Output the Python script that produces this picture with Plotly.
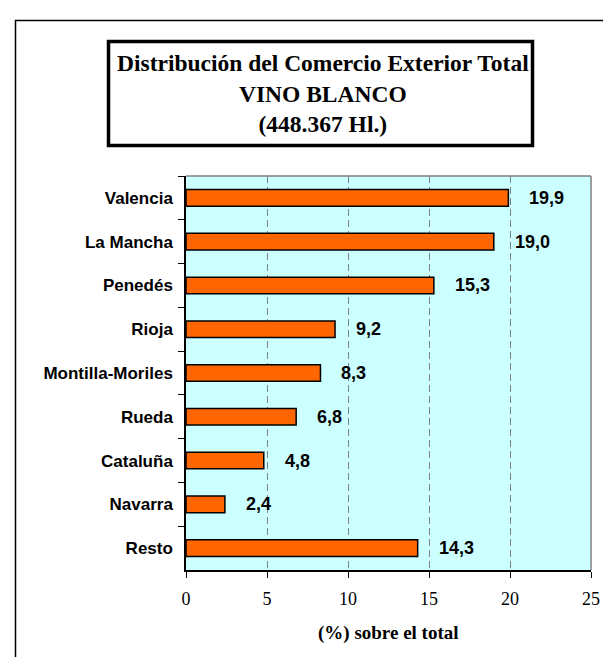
import plotly.graph_objects as go

categories = ["Valencia", "La Mancha", "Penedés", "Rioja", "Montilla-Moriles",
              "Rueda", "Cataluña", "Navarra", "Resto"]
values = [19.9, 19.0, 15.3, 9.2, 8.3, 6.8, 4.8, 2.4, 14.3]
value_labels = ["19,9", "19,0", "15,3", "9,2", "8,3", "6,8", "4,8", "2,4", "14,3"]
x_ticks = [0, 5, 10, 15, 20, 25]
title_lines = ["Distribución del Comercio Exterior Total", "VINO BLANCO", "(448.367 Hl.)"]
x_title = "(%) sobre el total"

W, H = 611, 657
L, R, T, B = 178, 583, 168, 562


def px2x(px):
    return (px - L) / (R - L)


def py2y(py):
    return (B - py) / (B - T)


SANS = "Liberation Sans, Arial, sans-serif"
SERIF = "Liberation Serif, Times New Roman, serif"

fig = go.Figure()
fig.add_trace(go.Bar(
    x=values, y=categories, orientation="h",
    marker=dict(color="#FF6600", line=dict(color="black", width=1.5)),
    width=0.38, hoverinfo="skip",
))

annotations = []
for c, v, t in zip(categories, values, value_labels):
    annotations.append(dict(
        x=v, y=c, xref="x", yref="y", text="<b>%s</b>" % t, showarrow=False,
        xanchor="left", yanchor="middle", xshift=19,
        font=dict(family=SANS, size=18, color="black"),
    ))

annotations.append(dict(
    x=px2x(315), y=py2y(86), xref="paper", yref="paper",
    text="<br>".join("<b>%s</b>" % s for s in title_lines), showarrow=False,
    xanchor="center", yanchor="middle", align="center",
    font=dict(family=SERIF, size=23.5, color="black"),
))
annotations.append(dict(
    x=0.5, y=py2y(625), xref="paper", yref="paper",
    text="<b>%s</b>" % x_title, showarrow=False,
    xanchor="center", yanchor="middle",
    font=dict(family=SERIF, size=19, color="black"),
))

shapes = [
    # outer frame (extends past right/bottom edges)
    dict(type="rect", xref="paper", yref="paper",
         x0=px2x(7.5), x1=px2x(680), y0=py2y(720), y1=py2y(12.5),
         line=dict(color="black", width=1.5), fillcolor="rgba(0,0,0,0)", layer="above"),
    # title box
    dict(type="rect", xref="paper", yref="paper",
         x0=px2x(100.5), x1=px2x(524.5), y0=py2y(137.5), y1=py2y(33.5),
         line=dict(color="black", width=3.5), fillcolor="rgba(0,0,0,0)", layer="above"),
    # plot area top and right borders (gray)
    dict(type="line", xref="paper", yref="paper", x0=0, x1=1, y0=1, y1=1,
         line=dict(color="#808080", width=1.5), layer="above"),
    dict(type="line", xref="paper", yref="paper", x0=1, x1=1, y0=0, y1=1,
         line=dict(color="#808080", width=1.5), layer="above"),
]

fig.update_layout(
    width=W, height=H,
    margin=dict(l=L, r=W - R, t=T, b=H - B, pad=0),
    paper_bgcolor="white", plot_bgcolor="#CCFFFF",
    showlegend=False, bargap=0.62,
    annotations=annotations, shapes=shapes,
    xaxis=dict(
        range=[0, 25], tickvals=x_ticks, ticktext=[str(t) for t in x_ticks],
        showgrid=True, gridcolor="#808080", griddash="7px,4px", gridwidth=1,
        zeroline=False, showline=True, linecolor="black", linewidth=1.5,
        ticks="outside", ticklen=6, tickcolor="black", tickwidth=1,
        ticklabelstandoff=6,
        tickfont=dict(family=SERIF, size=18, color="black"), fixedrange=True,
    ),
    yaxis=dict(
        categoryorder="array", categoryarray=categories, autorange="reversed",
        showgrid=False, zeroline=False, showline=True, linecolor="black", linewidth=1.5,
        ticks="outside", ticklen=6, tickcolor="black", tickwidth=1,
        tickson="boundaries", ticklabelstandoff=8,
        tickfont=dict(family=SANS, size=17, color="black", weight="bold"), fixedrange=True,
    ),
)

fig.write_html("out.html")
